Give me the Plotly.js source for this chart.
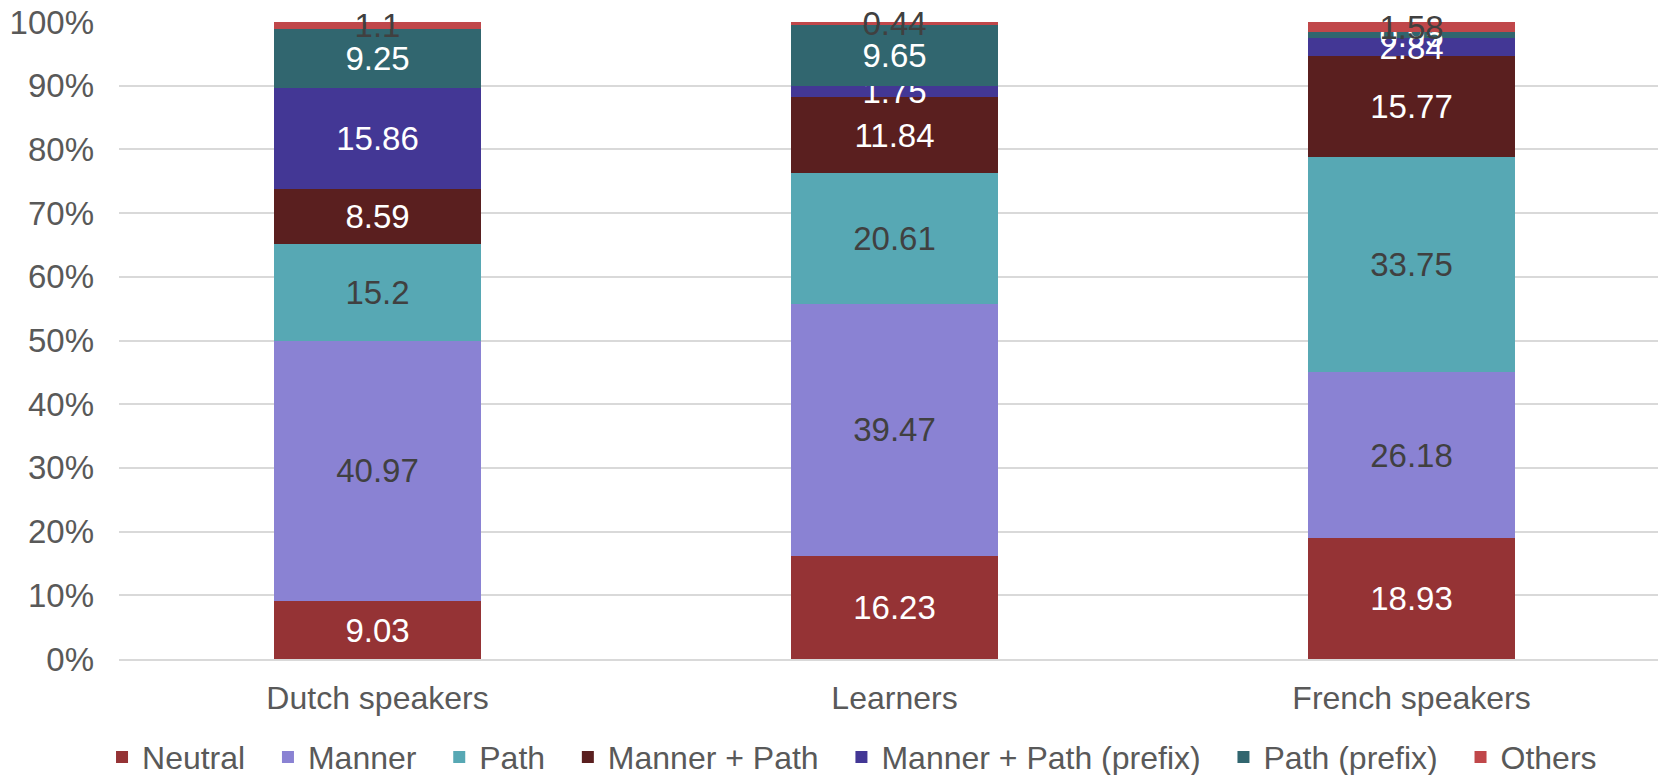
<!DOCTYPE html>
<html>
<head>
<meta charset="utf-8">
<script src="https://cdn.plot.ly/plotly-3.0.1.min.js"></script>
<style>
html,body{margin:0;padding:0;background:#fff;overflow:hidden;}
#chart{width:1658px;height:775px;}
</style>
</head>
<body>
<div id="chart"></div>
<script>
const categories = ["Dutch speakers", "Learners", "French speakers"];
const seriesNames = ["Neutral", "Manner", "Path", "Manner + Path", "Manner + Path (prefix)", "Path (prefix)", "Others"];
const neutral = [9.03, 16.23, 18.93];
const manner = [40.97, 39.47, 26.18];
const path = [15.2, 20.61, 33.75];
const mannerPath = [8.59, 11.84, 15.77];
const mannerPathPrefix = [15.86, 1.75, 2.84];
const pathPrefix = [9.25, 9.65, 0.95];
const others = [1.1, 0.44, 1.58];
const yTickVals = [0, 10, 20, 30, 40, 50, 60, 70, 80, 90, 100];

const seriesValues = [neutral, manner, path, mannerPath, mannerPathPrefix, pathPrefix, others];
const colors = ["#953335", "#8a82d3", "#57a8b4", "#5a1f1f", "#433795", "#31666f", "#c0474a"];
const textColors = ["#ffffff", "#404040", "#404040", "#ffffff", "#ffffff", "#ffffff", "#404040"];

const FONT = "Liberation Sans, Arial, sans-serif";
const PAD = "\u00a0\u00a0";

const traces = seriesNames.map((name, i) => ({
  type: "bar",
  name: i < seriesNames.length - 1 ? name + PAD : name,
  x: categories,
  y: seriesValues[i],
  text: seriesValues[i].map(v => String(v)),
  textposition: "inside",
  insidetextanchor: "middle",
  textangle: 0,
  constraintext: "none",
  cliponaxis: false,
  textfont: {family: FONT, size: 33, color: textColors[i]},
  marker: {color: colors[i], line: {width: 0}},
  hoverinfo: "none"
}));

const layout = {
  width: 1658,
  height: 775,
  paper_bgcolor: "#ffffff",
  plot_bgcolor: "#ffffff",
  margin: {l: 119, r: 0, t: 22, b: 116, pad: 0, autoexpand: false},
  barmode: "stack",
  bargap: 0.6,
  font: {family: FONT, color: "#595959", size: 32},
  showlegend: true,
  legend: {
    orientation: "h",
    x: 0.4763,
    xanchor: "center",
    y: -0.154,
    yanchor: "middle",
    traceorder: "normal",
    font: {family: FONT, size: 32, color: "#595959"},
    itemwidth: 30,
    bgcolor: "rgba(0,0,0,0)"
  },
  xaxis: {
    type: "category",
    range: [-0.5, 2.4768],
    showgrid: false,
    showline: true,
    linecolor: "#d9d9d9",
    linewidth: 2,
    ticks: "",
    ticklabelstandoff: 10,
    automargin: false,
    tickfont: {family: FONT, size: 32, color: "#595959"},
    fixedrange: true
  },
  yaxis: {
    range: [0, 100],
    tickvals: yTickVals,
    ticktext: yTickVals.map(v => v + "%"),
    showgrid: true,
    gridcolor: "#d9d9d9",
    gridwidth: 2,
    zeroline: false,
    showline: false,
    ticks: "",
    ticklabelstandoff: 24,
    automargin: false,
    tickfont: {family: FONT, size: 33, color: "#595959"},
    fixedrange: true
  }
};

Plotly.newPlot("chart", traces, layout, {displayModeBar: false, staticPlot: true});
</script>
</body>
</html>
